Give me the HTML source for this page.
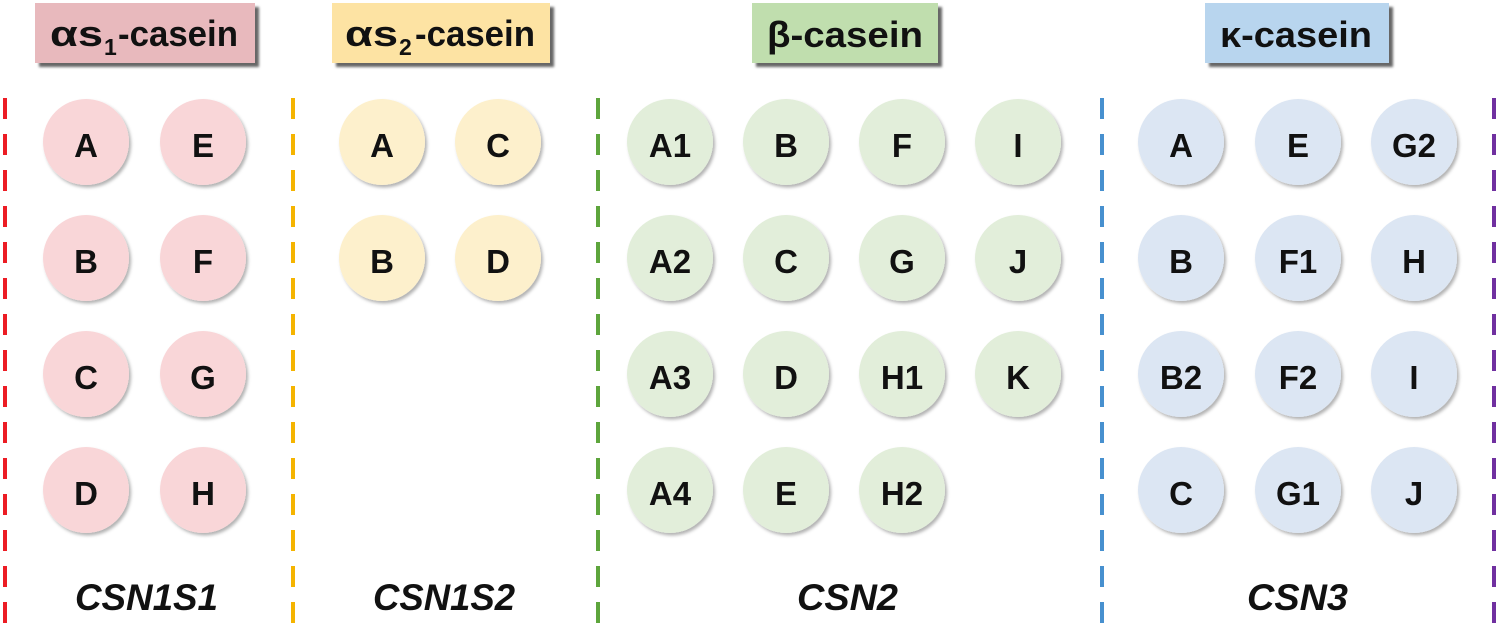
<!DOCTYPE html>
<html>
<head>
<meta charset="utf-8">
<style>
html,body{margin:0;padding:0;background:#fff;}
svg{display:block;}
text{font-family:"Liberation Sans","DejaVu Sans",sans-serif;font-weight:bold;fill:#111;}
</style>
</head>
<body>
<svg width="1500" height="635" viewBox="0 0 1500 635" xmlns="http://www.w3.org/2000/svg">
<defs>
<filter id="hs" x="-10%" y="-20%" width="130%" height="160%">
<feDropShadow dx="4" dy="4" stdDeviation="1.2" flood-color="#000" flood-opacity="0.6"/>
</filter>
<filter id="cs" x="-20%" y="-20%" width="150%" height="150%">
<feDropShadow dx="2" dy="2.5" stdDeviation="1.6" flood-color="#000" flood-opacity="0.3"/>
</filter>
</defs>
<rect width="1500" height="635" fill="#fff"/>

<!-- dashed separators -->
<g stroke-width="4" stroke-dasharray="21 15" fill="none">
<line x1="5" y1="98" x2="5" y2="640" stroke="#ec1c24"/>
<line x1="293" y1="98" x2="293" y2="640" stroke="#f5b400"/>
<line x1="598" y1="98" x2="598" y2="640" stroke="#5da53c"/>
<line x1="1102" y1="98" x2="1102" y2="640" stroke="#4790cf"/>
<line x1="1494" y1="98" x2="1494" y2="640" stroke="#7030a0"/>
</g>

<!-- headers -->
<rect x="35" y="3" width="220" height="60" fill="#e8b9bd" filter="url(#hs)"/>
<rect x="332" y="3" width="218" height="60" fill="#fde3a3" filter="url(#hs)"/>
<rect x="752" y="3" width="186" height="60" fill="#c0deae" filter="url(#hs)"/>
<rect x="1205" y="3" width="184" height="60" fill="#b8d5ee" filter="url(#hs)"/>

<text x="50" y="46" font-size="36" textLength="53" lengthAdjust="spacingAndGlyphs">αs</text>
<text x="104" y="55" font-size="23">1</text>
<text x="118" y="46" font-size="36" textLength="120" lengthAdjust="spacingAndGlyphs">-casein</text>

<text x="345" y="46" font-size="36" textLength="53" lengthAdjust="spacingAndGlyphs">αs</text>
<text x="399" y="55" font-size="23">2</text>
<text x="415" y="46" font-size="36" textLength="120" lengthAdjust="spacingAndGlyphs">-casein</text>

<text x="767" y="47" font-size="36" textLength="156" lengthAdjust="spacingAndGlyphs">β-casein</text>
<text x="1220" y="47" font-size="36" textLength="152" lengthAdjust="spacingAndGlyphs">κ-casein</text>

<!-- circles -->
<g filter="url(#cs)">
<g fill="#f9d6d8">
<circle cx="86" cy="142" r="43"/><circle cx="203" cy="142" r="43"/>
<circle cx="86" cy="258" r="43"/><circle cx="203" cy="258" r="43"/>
<circle cx="86" cy="374" r="43"/><circle cx="203" cy="374" r="43"/>
<circle cx="86" cy="490" r="43"/><circle cx="203" cy="490" r="43"/>
</g>
<g fill="#fdf0cc">
<circle cx="382" cy="142" r="43"/><circle cx="498" cy="142" r="43"/>
<circle cx="382" cy="258" r="43"/><circle cx="498" cy="258" r="43"/>
</g>
<g fill="#e2eeda">
<circle cx="670" cy="142" r="43"/><circle cx="786" cy="142" r="43"/><circle cx="902" cy="142" r="43"/><circle cx="1018" cy="142" r="43"/>
<circle cx="670" cy="258" r="43"/><circle cx="786" cy="258" r="43"/><circle cx="902" cy="258" r="43"/><circle cx="1018" cy="258" r="43"/>
<circle cx="670" cy="374" r="43"/><circle cx="786" cy="374" r="43"/><circle cx="902" cy="374" r="43"/><circle cx="1018" cy="374" r="43"/>
<circle cx="670" cy="490" r="43"/><circle cx="786" cy="490" r="43"/><circle cx="902" cy="490" r="43"/>
</g>
<g fill="#dce6f3">
<circle cx="1181" cy="142" r="43"/><circle cx="1298" cy="142" r="43"/><circle cx="1414" cy="142" r="43"/>
<circle cx="1181" cy="258" r="43"/><circle cx="1298" cy="258" r="43"/><circle cx="1414" cy="258" r="43"/>
<circle cx="1181" cy="374" r="43"/><circle cx="1298" cy="374" r="43"/><circle cx="1414" cy="374" r="43"/>
<circle cx="1181" cy="490" r="43"/><circle cx="1298" cy="490" r="43"/><circle cx="1414" cy="490" r="43"/>
</g>
</g>

<!-- circle labels -->
<g font-size="33" text-anchor="middle">
<text x="86" y="157">A</text><text x="203" y="157">E</text>
<text x="86" y="273">B</text><text x="203" y="273">F</text>
<text x="86" y="389">C</text><text x="203" y="389">G</text>
<text x="86" y="505">D</text><text x="203" y="505">H</text>

<text x="382" y="157">A</text><text x="498" y="157">C</text>
<text x="382" y="273">B</text><text x="498" y="273">D</text>

<text x="670" y="157">A1</text><text x="786" y="157">B</text><text x="902" y="157">F</text><text x="1018" y="157">I</text>
<text x="670" y="273">A2</text><text x="786" y="273">C</text><text x="902" y="273">G</text><text x="1018" y="273">J</text>
<text x="670" y="389">A3</text><text x="786" y="389">D</text><text x="902" y="389">H1</text><text x="1018" y="389">K</text>
<text x="670" y="505">A4</text><text x="786" y="505">E</text><text x="902" y="505">H2</text>

<text x="1181" y="157">A</text><text x="1298" y="157">E</text><text x="1414" y="157">G2</text>
<text x="1181" y="273">B</text><text x="1298" y="273">F1</text><text x="1414" y="273">H</text>
<text x="1181" y="389">B2</text><text x="1298" y="389">F2</text><text x="1414" y="389">I</text>
<text x="1181" y="505">C</text><text x="1298" y="505">G1</text><text x="1414" y="505">J</text>
</g>

<!-- gene labels -->
<g font-size="37" font-style="italic">
<text x="75" y="610" textLength="143" lengthAdjust="spacingAndGlyphs">CSN1S1</text>
<text x="373" y="610" textLength="142" lengthAdjust="spacingAndGlyphs">CSN1S2</text>
<text x="797" y="610" textLength="101" lengthAdjust="spacingAndGlyphs">CSN2</text>
<text x="1247" y="610" textLength="101" lengthAdjust="spacingAndGlyphs">CSN3</text>
</g>
</svg>
</body>
</html>
